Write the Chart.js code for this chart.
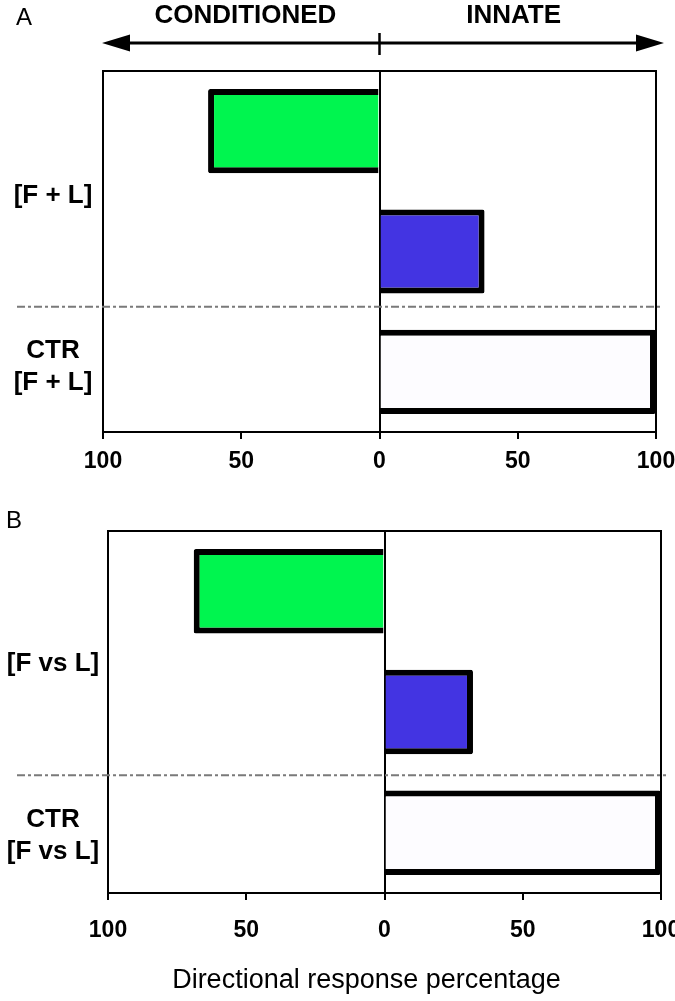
<!DOCTYPE html>
<html lang="en">
<head>
<meta charset="UTF-8">
<title>Directional response percentage</title>
<script src="https://cdn.jsdelivr.net/npm/chart.js"></script>
<style>
  body { margin: 0; background: #fff; }
  .panel { position: absolute; left: 0; width: 675px; }
  #panelA { top: 0; height: 490px; }
  #panelB { top: 490px; height: 511px; }
</style>
</head>
<body>
<div class="panel" id="panelA"><canvas id="chartA"></canvas></div>
<div class="panel" id="panelB"><canvas id="chartB"></canvas></div>

<script>
// data (negative = conditioned side)
const rows = ['Conditioned', 'Innate', 'CTR'];
const valuesA = [-62, 38, 100];
const valuesB = [-69, 32, 100];
const barColors = ['#00f54f', '#4334e2', '#fdfcff'];
const groupsA = [['[F + L]'], ['CTR', '[F + L]']];
const groupsB = [['[F vs L]'], ['CTR', '[F vs L]']];
const xTicks = [-100, -50, 0, 50, 100];

const FONT = '"Liberation Sans", Arial, Helvetica, sans-serif';
Chart.defaults.font.family = FONT;
Chart.defaults.color = '#000';

// box, separator, row labels, header arrow and axis title
const decor = {
  id: 'decor',
  afterDraw(chart, args, o) {
    const { ctx, chartArea: a, scales: { x, y } } = chart;
    ctx.save();
    ctx.strokeStyle = '#000';
    ctx.lineWidth = 2;
    ctx.beginPath();
    ctx.moveTo(a.left, a.top);
    ctx.lineTo(a.right, a.top);
    ctx.lineTo(a.right, a.bottom);
    ctx.stroke();

    // dash-dot line between the test rows and the control row
    const sy = y.getPixelForValue(1.5) + o.sepShift;
    ctx.strokeStyle = '#7a7a7a';
    ctx.setLineDash([8, 3, 3, 3]);
    ctx.beginPath();
    ctx.moveTo(17, sy);
    ctx.lineTo(a.right + 5, sy);
    ctx.stroke();
    ctx.setLineDash([]);
    ctx.strokeStyle = '#000';

    ctx.fillStyle = '#000';
    ctx.textAlign = 'center';
    ctx.textBaseline = 'middle';
    ctx.font = 'bold 26px ' + FONT;
    o.groups.forEach((lines, i) => {
      const cy = y.getPixelForValue(o.groupAt[i]);
      lines.forEach((t, j) => ctx.fillText(t, 53, cy + (j - (lines.length - 1) / 2) * 32));
    });

    ctx.font = '24px ' + FONT;
    ctx.fillText(o.letter, o.letterPos[0], o.letterPos[1]);

    if (o.header) {
      const z = x.getPixelForValue(0);
      const l = a.left - 1, r = a.right + 8, ay = 43;
      ctx.font = 'bold 26px ' + FONT;
      ctx.fillText('CONDITIONED', x.getPixelForValue(-48.5), 16);
      ctx.fillText('INNATE', x.getPixelForValue(48.5), 16);
      ctx.lineWidth = 3;
      ctx.beginPath();
      ctx.moveTo(l + 20, ay);
      ctx.lineTo(r - 20, ay);
      ctx.stroke();
      ctx.beginPath();
      ctx.moveTo(l, ay); ctx.lineTo(l + 28, ay - 8.5); ctx.lineTo(l + 28, ay + 8.5); ctx.closePath();
      ctx.moveTo(r, ay); ctx.lineTo(r - 28, ay - 8.5); ctx.lineTo(r - 28, ay + 8.5); ctx.closePath();
      ctx.fill();
      ctx.lineWidth = 2.5;
      ctx.beginPath();
      ctx.moveTo(z, 33);
      ctx.lineTo(z, 55);
      ctx.stroke();
    }

    if (o.axisTitle) {
      ctx.font = '27px ' + FONT;
      ctx.textBaseline = 'alphabetic';
      ctx.fillText(o.axisTitle, (a.left + a.right) / 2 - 18, a.bottom + 95);
    }
    ctx.restore();
  }
};

function makeChart(id, values, opt) {
  return new Chart(document.getElementById(id), {
    type: 'bar',
    data: {
      labels: rows,
      datasets: [{
        data: values,
        backgroundColor: barColors,
        borderColor: '#000',
        borderWidth: 6,
        borderSkipped: 'start',
        borderRadius: 2,
        barPercentage: 0.7,
        categoryPercentage: 1
      }]
    },
    options: {
      indexAxis: 'y',
      responsive: true,
      maintainAspectRatio: false,
      animation: false,
      layout: { padding: opt.padding },
      scales: {
        x: {
          type: 'linear',
          min: -100,
          max: 100,
          afterBuildTicks: s => { s.ticks = xTicks.map(v => ({ value: v })); },
          afterFit: s => { s.height = opt.xHeight; s.paddingLeft = 0; s.paddingRight = 0; },
          ticks: {
            callback: v => Math.abs(v),
            font: { size: 23, weight: 'bold' },
            color: '#000',
            padding: opt.tickPad,
            maxRotation: 0,
            autoSkip: false
          },
          grid: {
            color: c => (c.tick && c.tick.value === 0 ? '#000' : 'rgba(0,0,0,0)'),
            tickColor: '#000',
            tickLength: 7,
            lineWidth: 2
          },
          border: { display: true, color: '#000', width: 2 }
        },
        y: {
          type: 'category',
          afterFit: s => { s.width = 0; },
          ticks: { display: false },
          grid: { display: false },
          border: { display: true, color: '#000', width: 2 }
        }
      },
      plugins: {
        legend: { display: false },
        tooltip: { enabled: false },
        decor: opt.decor
      }
    },
    plugins: [decor]
  });
}

makeChart('chartA', valuesA, {
  padding: { left: 103, right: 19, top: 71, bottom: 0 },
  xHeight: 58,
  tickPad: 9,
  decor: { groups: groupsA, groupAt: [0.54, 1.96], sepShift: -5, letter: 'A', letterPos: [24, 18], header: true }
});

makeChart('chartB', valuesB, {
  padding: { left: 108, right: 14, top: 41, bottom: 0 },
  xHeight: 108,
  tickPad: 17,
  decor: { groups: groupsB, groupAt: [0.6, 2.03], sepShift: 3, letter: 'B', letterPos: [14, 31],
           axisTitle: 'Directional response percentage' }
});
</script>
</body>
</html>
